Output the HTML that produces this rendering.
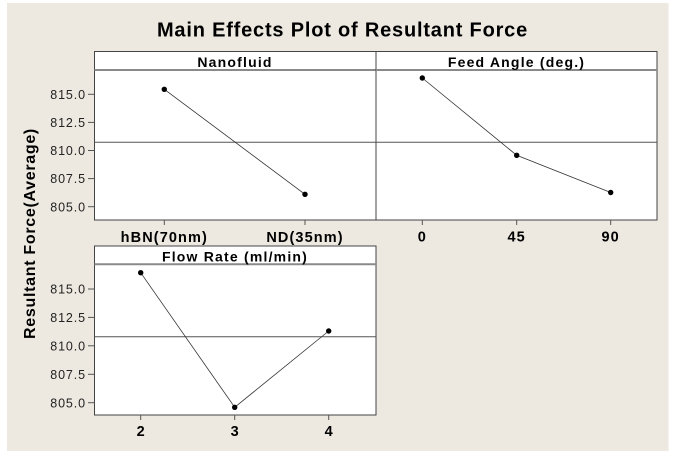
<!DOCTYPE html>
<html>
<head>
<meta charset="utf-8">
<style>
html,body{margin:0;padding:0;background:#fff;}
body{width:676px;height:456px;overflow:hidden;}
svg{display:block;}
.t{font-family:"Liberation Sans",Arial,sans-serif;}
</style>
</head>
<body>
<svg width="676" height="456" viewBox="0 0 676 456" xmlns="http://www.w3.org/2000/svg">
  <rect x="0" y="0" width="676" height="456" fill="#ffffff"/>
  <rect x="7" y="3" width="661.5" height="448" fill="#ede9e0"/>

  <!-- Title -->
  <text class="t" x="342.5" y="36.5" font-size="20" font-weight="bold" text-anchor="middle" letter-spacing="0.8" fill="#000">Main Effects Plot of Resultant Force</text>

  <!-- Y axis label -->
  <text class="t" transform="translate(35,233.5) rotate(-90)" font-size="16" font-weight="bold" text-anchor="middle" letter-spacing="0.7" fill="#000">Resultant Force(Average)</text>

  <!-- Panel 1 -->
  <rect x="94.5" y="51.5" width="281.5" height="168.5" fill="#fff" stroke="#444" stroke-width="1"/>
  <line x1="94.5" y1="70" x2="376" y2="70" stroke="#8a8a8a" stroke-width="2"/>
  <text class="t" x="235" y="67" font-size="14" font-weight="bold" text-anchor="middle" letter-spacing="1.2" fill="#000">Nanofluid</text>
  <line x1="94.5" y1="142.3" x2="376" y2="142.3" stroke="#555" stroke-width="1"/>
  <polyline points="164.3,89.3 305,194.3" fill="none" stroke="#333" stroke-width="0.8"/>
  <circle cx="164.3" cy="89.3" r="2.7" fill="#000"/>
  <circle cx="305" cy="194.3" r="2.7" fill="#000"/>

  <!-- Panel 2 -->
  <rect x="376" y="51.5" width="281" height="168.5" fill="#fff" stroke="#444" stroke-width="1"/>
  <line x1="376" y1="70" x2="657" y2="70" stroke="#8a8a8a" stroke-width="2"/>
  <text class="t" x="516.5" y="67" font-size="14" font-weight="bold" text-anchor="middle" letter-spacing="1.2" fill="#000">Feed Angle (deg.)</text>
  <line x1="376" y1="142.3" x2="657" y2="142.3" stroke="#555" stroke-width="1"/>
  <polyline points="422.3,78 516.7,155.3 610.7,192.5" fill="none" stroke="#333" stroke-width="0.8"/>
  <circle cx="422.3" cy="78" r="2.7" fill="#000"/>
  <circle cx="516.7" cy="155.3" r="2.7" fill="#000"/>
  <circle cx="610.7" cy="192.5" r="2.7" fill="#000"/>

  <!-- Panel 1 y ticks -->
  <g stroke="#555" stroke-width="1">
    <line x1="88" y1="94.3" x2="94.5" y2="94.3"/>
    <line x1="88" y1="122.4" x2="94.5" y2="122.4"/>
    <line x1="88" y1="150.5" x2="94.5" y2="150.5"/>
    <line x1="88" y1="178.6" x2="94.5" y2="178.6"/>
    <line x1="88" y1="206.7" x2="94.5" y2="206.7"/>
  </g>
  <g class="t" font-size="12.5" letter-spacing="0.9" fill="#222" text-anchor="end">
    <text x="86" y="99">815.0</text>
    <text x="86" y="127">812.5</text>
    <text x="86" y="155">810.0</text>
    <text x="86" y="183">807.5</text>
    <text x="86" y="211.3">805.0</text>
  </g>

  <!-- Panel 1 & 2 x ticks -->
  <g stroke="#555" stroke-width="1">
    <line x1="164.3" y1="220" x2="164.3" y2="225"/>
    <line x1="305" y1="220" x2="305" y2="225"/>
    <line x1="422.3" y1="220" x2="422.3" y2="225"/>
    <line x1="516.7" y1="220" x2="516.7" y2="225"/>
    <line x1="610.7" y1="220" x2="610.7" y2="225"/>
  </g>
  <g class="t" font-size="14.5" font-weight="bold" letter-spacing="1.1" fill="#000" text-anchor="middle">
    <text x="164.3" y="242">hBN(70nm)</text>
    <text x="305" y="242">ND(35nm)</text>
    <text x="422.3" y="241.5">0</text>
    <text x="516.7" y="241.5">45</text>
    <text x="610.7" y="241.5">90</text>
  </g>

  <!-- Panel 3 -->
  <rect x="94.5" y="246" width="281.5" height="169" fill="#fff" stroke="#444" stroke-width="1"/>
  <line x1="94.5" y1="264.3" x2="376" y2="264.3" stroke="#8a8a8a" stroke-width="2"/>
  <text class="t" x="235" y="261.5" font-size="14" font-weight="bold" text-anchor="middle" letter-spacing="1.2" fill="#000">Flow Rate (ml/min)</text>
  <line x1="94.5" y1="336.7" x2="376" y2="336.7" stroke="#555" stroke-width="1"/>
  <polyline points="140.7,272.7 234.7,407.3 328.7,331" fill="none" stroke="#333" stroke-width="0.8"/>
  <circle cx="140.7" cy="272.7" r="2.7" fill="#000"/>
  <circle cx="234.7" cy="407.3" r="2.7" fill="#000"/>
  <circle cx="328.7" cy="331" r="2.7" fill="#000"/>

  <g stroke="#555" stroke-width="1">
    <line x1="88" y1="289" x2="94.5" y2="289"/>
    <line x1="88" y1="317.4" x2="94.5" y2="317.4"/>
    <line x1="88" y1="345.8" x2="94.5" y2="345.8"/>
    <line x1="88" y1="374.3" x2="94.5" y2="374.3"/>
    <line x1="88" y1="402.7" x2="94.5" y2="402.7"/>
    <line x1="140.7" y1="415" x2="140.7" y2="420"/>
    <line x1="234.7" y1="415" x2="234.7" y2="420"/>
    <line x1="328.7" y1="415" x2="328.7" y2="420"/>
  </g>
  <g class="t" font-size="12.5" letter-spacing="0.9" fill="#222" text-anchor="end">
    <text x="86" y="293.5">815.0</text>
    <text x="86" y="322">812.5</text>
    <text x="86" y="350.4">810.0</text>
    <text x="86" y="378.9">807.5</text>
    <text x="86" y="407.3">805.0</text>
  </g>
  <g class="t" font-size="14.5" font-weight="bold" fill="#000" text-anchor="middle">
    <text x="140.7" y="436">2</text>
    <text x="234.7" y="436">3</text>
    <text x="328.7" y="436">4</text>
  </g>
</svg>
</body>
</html>
